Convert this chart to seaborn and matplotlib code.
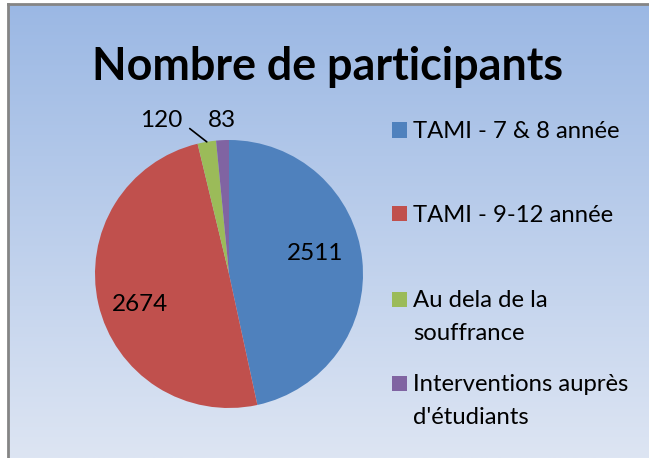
import numpy as np
import matplotlib
matplotlib.use("Agg")
import matplotlib.pyplot as plt
from matplotlib.patches import Rectangle
import seaborn as sns

# ---- data ----
categories = ["TAMI - 7 & 8 année", "TAMI - 9-12 année",
              "Au dela de la\nsouffrance", "Interventions auprès\nd'étudiants"]
values = [2511, 2674, 120, 83]
title = "Nombre de participants"
colors = ["#4F81BD", "#C0504D", "#9BBB59", "#8064A2"]

sns.set_theme(style="white")
plt.rcParams["font.family"] = ["Lato", "DejaVu Sans"]

W, H = 649, 458
fig = plt.figure(figsize=(W / 100, H / 100), dpi=100)
fig.patch.set_facecolor("white")

def fx(px):
    return px / W

def fy(py):
    return 1 - py / H

# gradient background (chart area)
bg = fig.add_axes([fx(8), 0, 1 - fx(8), fy(4)])
top = np.array([155, 184, 228]) / 255
bot = np.array([221, 229, 243]) / 255
t = np.linspace(0, 1, 256)[:, None]
grad = (top[None, :] * (1 - t) + bot[None, :] * t)[:, None, :]
bg.imshow(grad, aspect="auto", extent=[0, 1, 0, 1], origin="upper")
bg.set_xticks([]); bg.set_yticks([])
for s in ["right", "bottom"]:
    bg.spines[s].set_visible(False)
for s in ["left", "top"]:
    bg.spines[s].set_color("#858585")
    bg.spines[s].set_linewidth(2)
bg.set_zorder(0)

# pie axes
cx, cy, R = 229, 274, 134
sc = 1.3
side = 2 * R * sc
ax = fig.add_axes([fx(cx - side / 2), fy(cy + side / 2), side / W, side / H])
ax.set_zorder(1)
ax.patch.set_alpha(0)
wedges, _ = ax.pie(values, colors=colors, startangle=90, counterclock=False,
                   radius=1, wedgeprops=dict(linewidth=0))
ax.set_xlim(-sc, sc); ax.set_ylim(-sc, sc)
ax.set_aspect("equal")
ax.axis("off")

lab_fs = 17.5
def mid(w):
    a = np.deg2rad((w.theta1 + w.theta2) / 2)
    return np.cos(a), np.sin(a)

# inside labels
for i, r, da in [(0, 0.66, 7), (1, 0.70, 6)]:
    w = wedges[i]
    a = np.deg2rad((w.theta1 + w.theta2) / 2 + da)
    ax.text(r * np.cos(a), r * np.sin(a), f"{values[i]}", ha="center", va="center",
            fontsize=lab_fs, color="black")

# purple label above
c, s = mid(wedges[3])
ax.text(1.15 * c, 1.15 * s, f"{values[3]}", ha="center", va="center",
        fontsize=lab_fs, color="black")

# green label with leader line
c, s = mid(wedges[2])
ax.annotate(f"{values[2]}", xy=(c, s), xytext=(-0.507, 1.149),
            ha="center", va="center", fontsize=lab_fs, color="black",
            arrowprops=dict(arrowstyle="-", color="black", lw=1.2,
                            relpos=(1, 0.1), shrinkA=3, shrinkB=0,
                            connectionstyle="angle,angleA=0,angleB=-38,rad=0"))

# title
fig.text(fx(328), fy(80), title, ha="center", va="baseline",
         fontsize=32.3, fontweight="bold", color="black")

# legend (manual)
leg_fs = 17.2
line_gap = 33
baselines = [138, 222, 307, 391]
for lab, col, b in zip(categories, colors, baselines):
    fig.add_artist(Rectangle((fx(392), fy(b - 0.5)), 15 / W, 15 / H,
                             transform=fig.transFigure, facecolor=col,
                             edgecolor="none", zorder=3))
    for k, line in enumerate(lab.split("\n")):
        fig.text(fx(413), fy(b + k * line_gap), line, ha="left", va="baseline",
                 fontsize=leg_fs, color="black")

fig.savefig("out.png", dpi=100)
